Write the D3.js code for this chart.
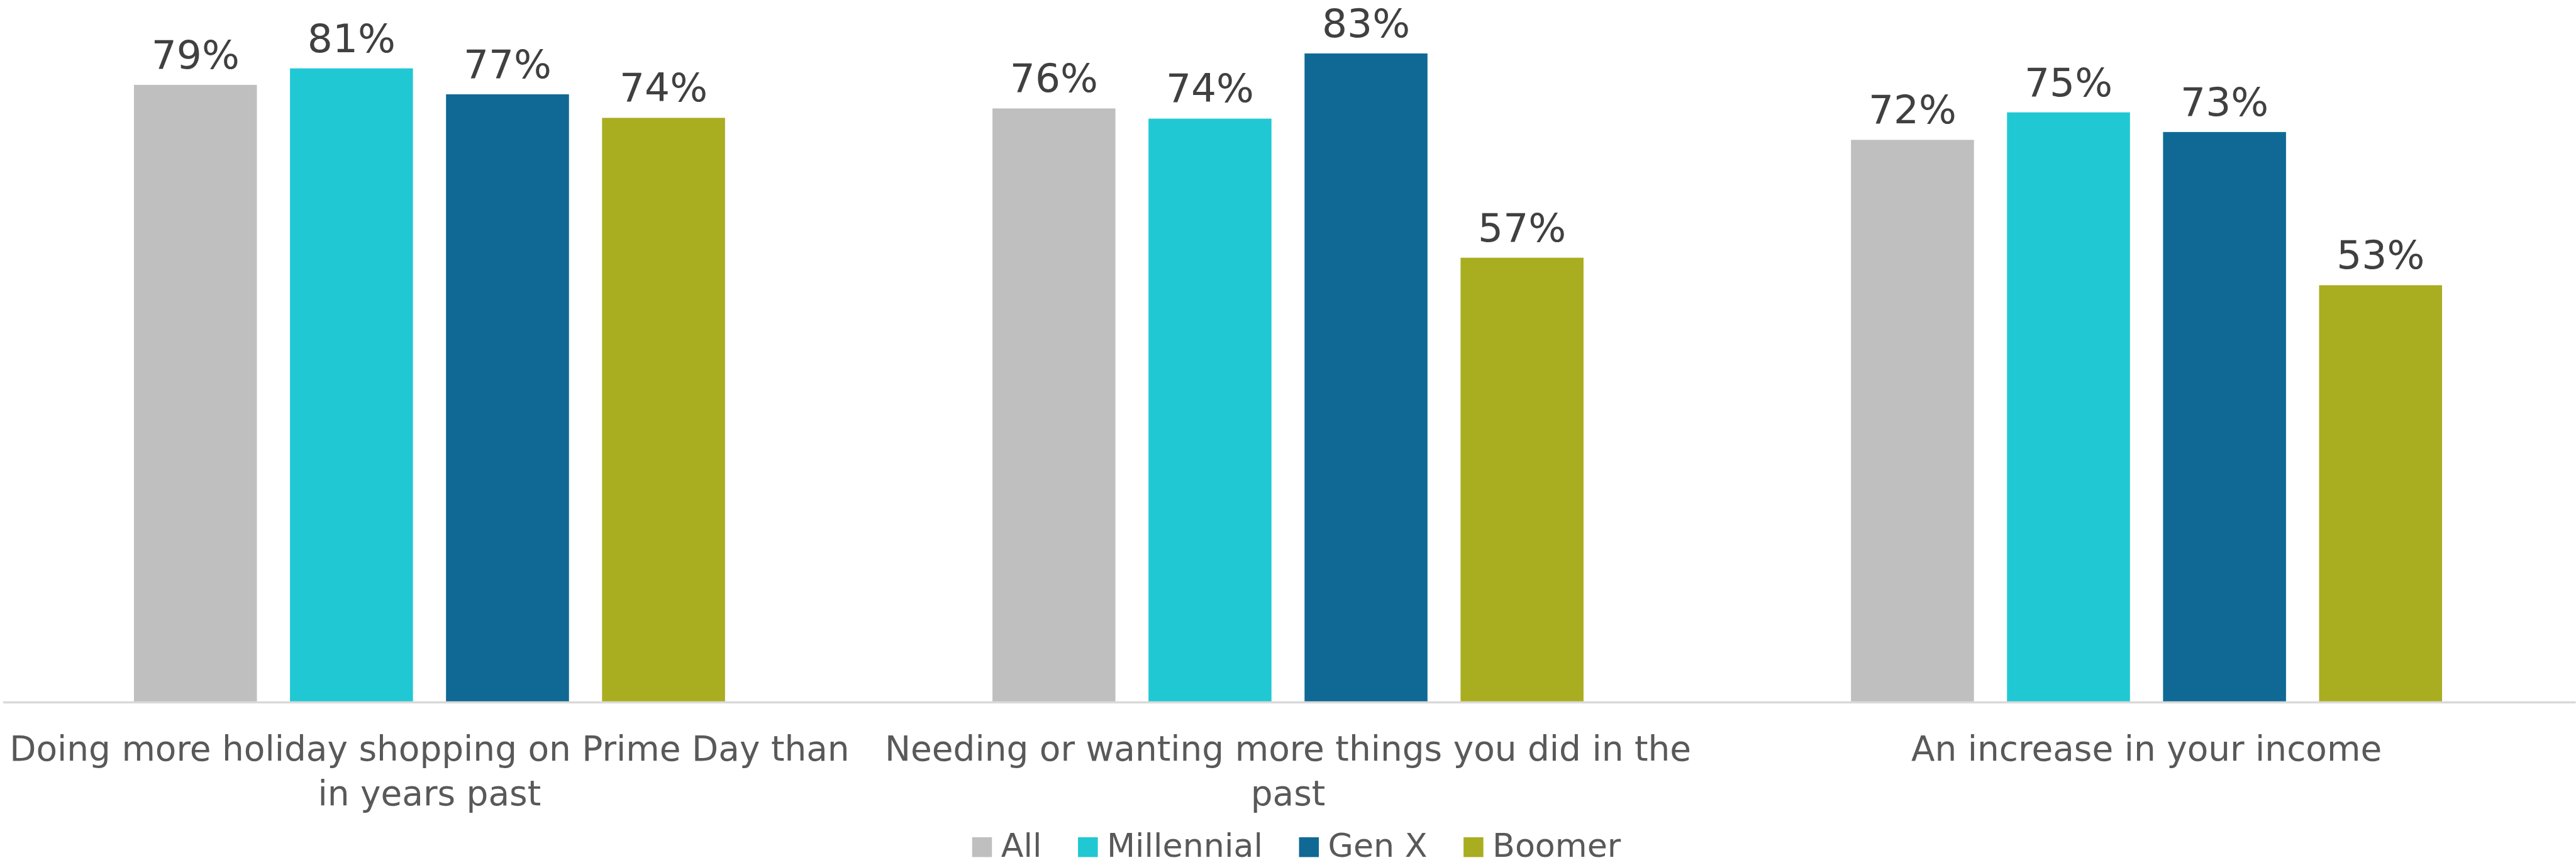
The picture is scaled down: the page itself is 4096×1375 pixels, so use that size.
<!DOCTYPE html>
<html>
<head>
<meta charset="utf-8">
<script src="https://cdn.jsdelivr.net/npm/d3@7"></script>
<style>
  html, body { margin: 0; padding: 0; background: #fff; overflow: hidden; }
  svg { display: block; }
  text { font-family: "DejaVu Sans", sans-serif; }
</style>
</head>
<body>
<div id="chart"></div>
<script>
// Categories (one line per entry, as wrapped in the original)
const categories = [
  "Doing more holiday shopping on Prime Day than in years past",
  "Needing or wanting more things you did in the past",
  "An increase in your income"
];
const categoryLines = [
  ["Doing more holiday shopping on Prime Day than", "in years past"],
  ["Needing or wanting more things you did in the", "past"],
  ["An increase in your income"]
];

const seriesNames = ["All", "Millennial", "Gen X", "Boomer"];
const seriesColors = ["#bfbfbf", "#20c8d4", "#106994", "#a9ad20"];

// values per series, in category order
const allValues        = [0.786, 0.756, 0.716];
const millennialValues = [0.807, 0.743, 0.751];
const genXValues       = [0.774, 0.826, 0.726];
const boomerValues     = [0.744, 0.566, 0.531];

const seriesValues = [allValues, millennialValues, genXValues, boomerValues];

// reference size, drawn at 0.9 through the viewBox
const W = 4548, H = 1527;
const OUT_W = 4096, OUT_H = 1375;

const svg = d3.select("#chart").append("svg")
  .attr("width", OUT_W)
  .attr("height", OUT_H)
  .attr("viewBox", `0 0 ${W} ${H}`);

const baseY = 1240;

// Scales
const x0 = d3.scaleBand()
  .domain(categories)
  .range([0, W])
  .padding(0);

const x1 = d3.scaleBand()
  .domain(seriesNames)
  .range([0, x0.bandwidth()])
  .paddingInner(0.212)
  .paddingOuter(0.857);

const y = d3.scaleLinear()
  .domain([0, 0.9])
  .range([baseY, baseY - 0.9 * 1387]);

const color = d3.scaleOrdinal().domain(seriesNames).range(seriesColors);
const fmt = d3.format(".0%");

// Data rows
const rows = [];
categories.forEach((c, ci) => {
  seriesNames.forEach((s, si) => {
    rows.push({ category: c, series: s, value: seriesValues[si][ci] });
  });
});

// Bars
const gBars = svg.append("g");
gBars.selectAll("rect")
  .data(rows)
  .enter()
  .append("rect")
  .attr("x", d => x0(d.category) + x1(d.series))
  .attr("y", d => y(d.value))
  .attr("width", x1.bandwidth())
  .attr("height", d => baseY - y(d.value))
  .attr("fill", d => color(d.series));

// Data labels
svg.append("g").selectAll("text")
  .data(rows)
  .enter()
  .append("text")
  .attr("x", d => x0(d.category) + x1(d.series) + x1.bandwidth() / 2)
  .attr("y", d => y(d.value) - 29)
  .attr("text-anchor", "middle")
  .attr("font-size", 70)
  .attr("fill", "#404040")
  .text(d => fmt(d.value));

// Axis line (category axis, no ticks)
const xAxis = d3.axisBottom(x0).tickSize(0).tickFormat("");
const gAxis = svg.append("g")
  .attr("transform", `translate(0,${baseY})`)
  .call(xAxis);
gAxis.select(".domain")
  .attr("stroke", "#d9d9d9")
  .attr("stroke-width", 4)
  .attr("d", `M5,0H${W}`);

// Category labels
const gCat = svg.append("g");
categories.forEach((c, ci) => {
  const t = gCat.append("text")
    .attr("x", x0(c) + x0.bandwidth() / 2)
    .attr("y", 1343)
    .attr("text-anchor", "middle")
    .attr("font-size", 61)
    .attr("fill", "#595959");
  categoryLines[ci].forEach((line, li) => {
    t.append("tspan")
      .attr("x", x0(c) + x0.bandwidth() / 2)
      .attr("y", 1343 + li * 79)
      .text(line);
  });
});

// Legend
const legend = svg.append("g");
const sw = 35, gapText = 16, gapItem = 64;
let lx = 0;
seriesNames.forEach(s => {
  const g = legend.append("g").attr("transform", `translate(${lx},0)`);
  g.append("rect")
    .attr("x", 0).attr("y", 1478)
    .attr("width", sw).attr("height", sw)
    .attr("fill", color(s));
  const t = g.append("text")
    .attr("x", sw + gapText)
    .attr("y", 1513)
    .attr("font-size", 58)
    .attr("fill", "#595959")
    .text(s);
  const w = t.node().getComputedTextLength();
  lx += sw + gapText + w + gapItem;
});
const legendW = lx - gapItem;
legend.attr("transform", `translate(${2289 - legendW / 2},0)`);
</script>
</body>
</html>
